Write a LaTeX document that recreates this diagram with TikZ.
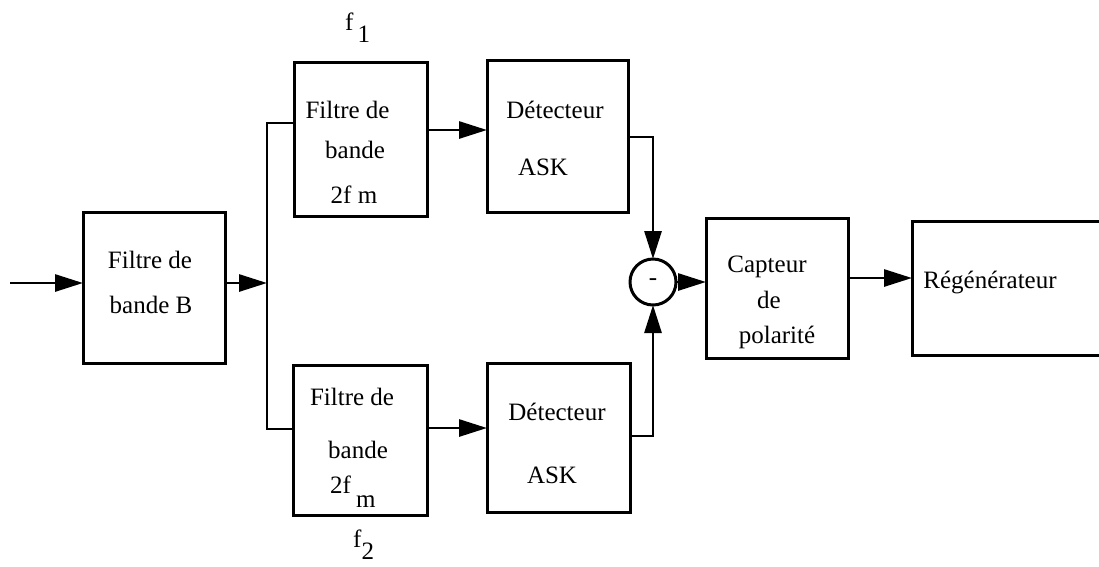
\documentclass[tikz,border=0pt]{standalone}
\usepackage{fontspec}
\setmainfont{Liberation Serif}
\usetikzlibrary{arrows.meta}
\begin{document}
\begin{tikzpicture}[x=1pt,y=-1pt,
  font=\fontsize{25}{30}\selectfont,
  box/.style={draw, line width=3pt, inner sep=0pt, outer sep=0pt},
  txt/.style={anchor=base, inner sep=0pt},
  arr/.style={line width=2.8pt, -{Triangle[length=28pt,width=17pt]}},
  wire/.style={line width=2.8pt}]
\useasboundingbox (0,0) rectangle (1099,566);
\clip (0,0) rectangle (1099,566);
% boxes
\node[box, minimum width=142pt, minimum height=151pt] (B)  at (154,287.5) {};
\node[box, minimum width=133pt, minimum height=154pt] (F1) at (360.5,139) {};
\node[box, minimum width=134pt, minimum height=150pt] (F2) at (360,440) {};
\node[box, minimum width=141pt, minimum height=152pt] (D1) at (557.5,136) {};
\node[box, minimum width=143pt, minimum height=149pt] (D2) at (558.5,437.5) {};
\node[box, circle, minimum size=46pt] (S) at (653,282) {-};
\node[box, minimum width=142pt, minimum height=140pt] (C)  at (777,288) {};
\node[box, minimum width=198pt, minimum height=134pt] (R)  at (1011,288) {};
% texts
\node[txt] (tB1) at (150,268) {Filtre de};
\node[txt] (tB2) at (151,313) {bande B};
\node[txt] (tF11) at (347.5,118) {Filtre de};
\node[txt] (tF12) at (355,158) {bande};
\node[txt] (tF13) at (354,203) {2f m};
\node[txt] (tD11) at (555,118) {Détecteur};
\node[txt] (tD12) at (543,175) {ASK};
\node[txt] (tF21) at (352,405) {Filtre de};
\node[txt] (tF22) at (358,458) {bande};
\node[txt, anchor=base west] (tF23) at (330,493) {2f\hspace{5pt}\raisebox{-14pt}{m}};
\node[txt] (tD21) at (557,420) {Détecteur};
\node[txt] (tD22) at (552,483) {ASK};
\node[txt] (tC1) at (767,272) {Capteur};
\node[txt] (tC2) at (769,308) {de};
\node[txt] (tC3) at (777,343) {polarité};
\node[txt] (tR) at (990,288) {Régénérateur};
\node[txt, anchor=base west] (f1) at (345,30) {f\hspace{4pt}\raisebox{-12pt}{1}};
\node[txt, anchor=base west] (f2) at (353,547) {f\raisebox{-12pt}{2}};
% coordinates
\coordinate (inpt) at (10,283);
\coordinate (jt) at (267,123);
\coordinate (jb) at (267,429);
\coordinate (u) at (0,130);
\coordinate (l) at (0,428);
\coordinate (ur) at (653,137);
\coordinate (lr) at (653,436);
\coordinate (cr) at (0,278);
% connectors
\draw[arr] (inpt) -- (inpt -| B.west);
\draw[arr] (inpt -| B.east) -- (inpt -| jt);
\draw[wire] (F1.west |- jt) -- (jt) -- (jb) -- (F2.west |- jb);
\draw[arr] (u -| F1.east) -- (u -| D1.west);
\draw[arr] (l -| F2.east) -- (l -| D2.west);
\draw[arr] (ur -| D1.east) -- (ur) -- (S.north);
\draw[arr] (lr -| D2.east) -- (lr) -- (S.south);
\draw[arr] (S.east) -- (S.east -| C.west);
\draw[arr] (cr -| C.east) -- (cr -| R.west);
\end{tikzpicture}
\end{document}
